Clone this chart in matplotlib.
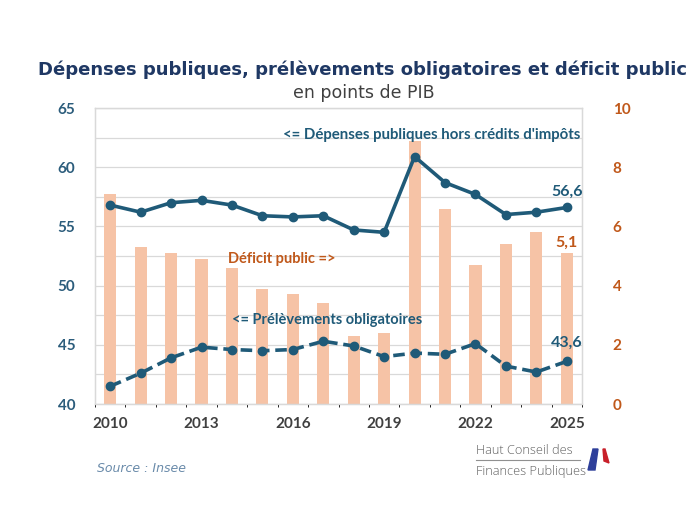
import matplotlib
matplotlib.use("Agg")
import matplotlib.pyplot as plt
from matplotlib.patches import Polygon
import numpy as np

years = list(range(2010, 2026))
depenses = [56.8, 56.2, 57.0, 57.2, 56.8, 55.9, 55.8, 55.9, 54.7, 54.5, 60.9, 58.7, 57.7, 56.0, 56.2, 56.6]
prelevements = [41.5, 42.6, 43.9, 44.8, 44.6, 44.5, 44.6, 45.3, 44.9, 44.0, 44.3, 44.2, 45.1, 43.2, 42.7, 43.6]
deficit = [7.1, 5.3, 5.1, 4.9, 4.6, 3.9, 3.7, 3.4, 2.3, 2.4, 8.9, 6.6, 4.7, 5.4, 5.8, 5.1]
xtick_years = [2010, 2013, 2016, 2019, 2022, 2025]
left_ticks = [40, 45, 50, 55, 60, 65]
right_ticks = [0, 2, 4, 6, 8, 10]

TEAL = "#1F5A78"
ORANGE = "#C0581A"
BAR = "#F6C3A6"
GRID = "#D9D9D9"
LABEL_BLUE = "#2C5D7C"

fig = plt.figure(figsize=(6.99, 5.24), dpi=100)
ax = fig.add_axes([95/699, 1-404/524, (582-95)/699, (404-108)/524])
ax2 = ax.twinx()

x = np.arange(len(years))

# bars on right axis (drawn beneath)
ax.set_zorder(ax2.get_zorder() + 1)
ax.patch.set_visible(False)
ax2.bar(x, deficit, width=0.4, color=BAR, zorder=2)
ax2.set_ylim(0, 10)
ax2.set_yticks(right_ticks)
ax2.set_yticks(np.arange(0, 11, 1), minor=True)
ax2.grid(True, which="both", axis="y", color=GRID, lw=0.9, zorder=0)
ax2.set_axisbelow(True)
ax2.tick_params(axis="y", which="both", length=0, pad=22)
for lab in ax2.get_yticklabels():
    lab.set_color(ORANGE)
    lab.set_fontweight("bold")
    lab.set_fontsize(11)
    lab.set_fontfamily("Lato")

# vertical grid at category boundaries
ax2.set_xticks(np.arange(-0.5, 16, 1), minor=True)
ax2.grid(True, which="minor", axis="x", color=GRID, lw=0.9, zorder=0)

ax.plot(x, depenses, color=TEAL, lw=2.6, marker="o", ms=6, zorder=5)
ax.plot(x, prelevements, color=TEAL, lw=2.6, ls=(0, (3.2, 1.6)), marker="o", ms=6, zorder=5)
ax.set_ylim(40, 65)
ax.set_xlim(-0.5, len(years) - 0.5)
ax.set_yticks(left_ticks)
ax.set_xticks([years.index(y) for y in xtick_years])
ax.set_xticklabels([str(y) for y in xtick_years])
ax.tick_params(axis="both", length=0)
ax.tick_params(axis="y", pad=14)
ax.tick_params(axis="x", pad=9)
for lab in ax.get_yticklabels():
    lab.set_color(LABEL_BLUE)
    lab.set_fontweight("bold")
    lab.set_fontsize(11)
    lab.set_fontfamily("Lato")
for lab in ax.get_xticklabels():
    lab.set_color("#404040")
    lab.set_fontweight("bold")
    lab.set_fontsize(11)
    lab.set_fontfamily("Lato")
ax2.set_xlim(-0.5, len(years) - 0.5)

for a in (ax, ax2):
    for s in a.spines.values():
        s.set_color(GRID)
        s.set_linewidth(0.9)

# annotations
ax.text(15.45, 62.7, "<= Dépenses publiques hors crédits d'impôts", ha="right", va="center",
        color=TEAL, fontweight="bold", fontsize=10.8, family="Lato")
ax.text(15.0, 57.95, "56,6", ha="center", va="center", color=TEAL, fontweight="bold", fontsize=11.5, family="Lato")
ax.text(15.0, 45.15, "43,6", ha="center", va="center", color=TEAL, fontweight="bold", fontsize=11.5, family="Lato")
ax.text(4.0, 47.1, "<= Prélèvements obligatoires", ha="left", va="center",
        color=TEAL, fontweight="bold", fontsize=10.5, family="Lato")
ax2.text(3.87, 4.9, "Déficit public =>", ha="left", va="center",
         color=ORANGE, fontweight="bold", fontsize=10.5, family="Lato")
ax2.text(15.0, 5.45, "5,1", ha="center", va="center", color=ORANGE, fontweight="bold", fontsize=11.5, family="Lato")

# titles
fig.text(362/699, 1-70/524, "Dépenses publiques, prélèvements obligatoires et déficit public",
         ha="center", va="center", color="#1F3864", fontweight="bold", fontsize=13)
fig.text(364/699, 1-93/524, "en points de PIB", ha="center", va="center", color="#404040", fontsize=12.5)

# source
fig.text(97/699, 1-469/524, "Source : Insee", ha="left", va="center", color="#6A8BAA",
         fontstyle="italic", fontsize=9)

# logo
fig.text(476/699, 1-450/524, "Haut Conseil des", ha="left", va="center", color="#606060", fontsize=9.2,
         family="Open Sans", fontweight="light")
fig.text(476/699, 1-471/524, "Finances Publiques", ha="left", va="center", color="#606060", fontsize=9.2,
         family="Open Sans", fontweight="light")
fig.add_artist(plt.Line2D([476/699, 580/699], [1-460/524, 1-460/524], color="#909090", lw=0.8,
                          transform=fig.transFigure))
blue = Polygon([[593/699, 1-449/524], [598/699, 1-449/524], [595/699, 1-470/524], [588/699, 1-470/524]],
               closed=True, transform=fig.transFigure, color="#2E3F9A")
red = Polygon([[603/699, 1-449/524], [605/699, 1-449/524], [609/699, 1-463/524], [604/699, 1-461/524]],
              closed=True, transform=fig.transFigure, color="#C8202A")
fig.add_artist(blue)
fig.add_artist(red)

fig.savefig("out.png", dpi=100)
